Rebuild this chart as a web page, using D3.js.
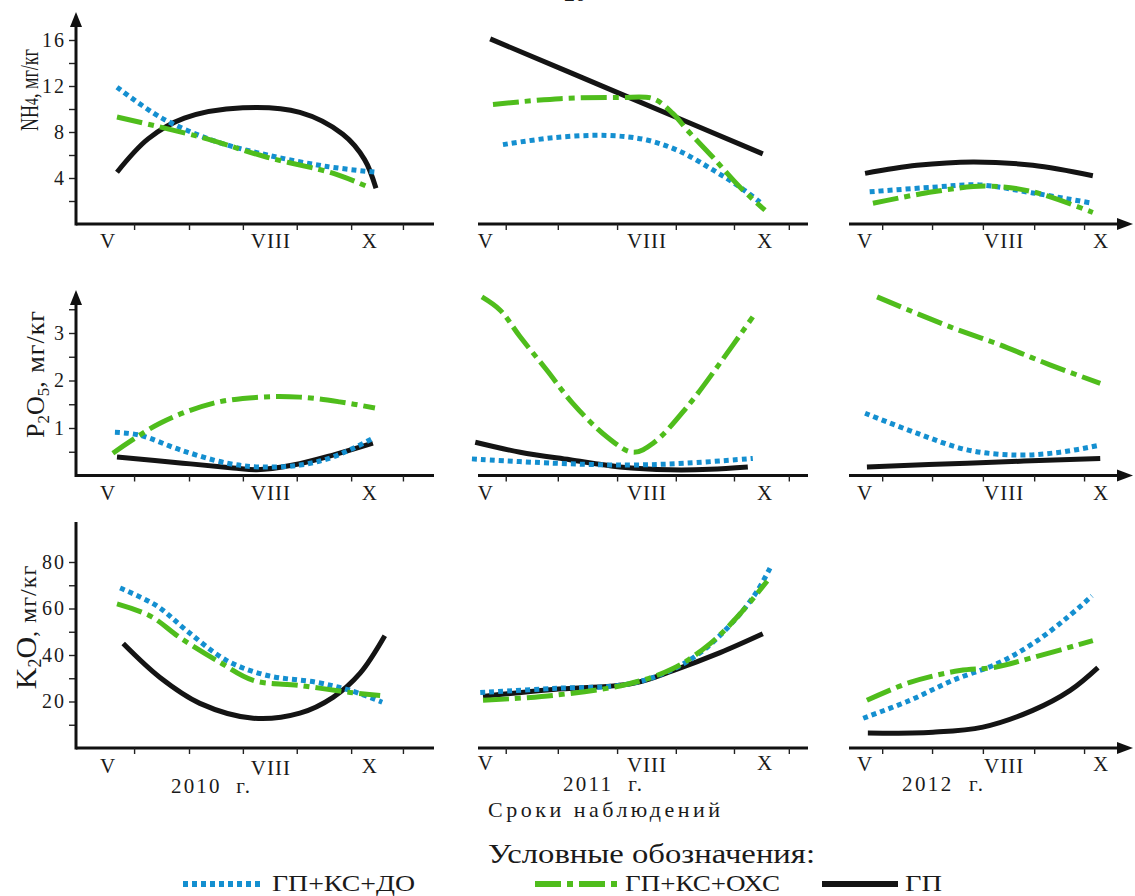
<!DOCTYPE html>
<html><head><meta charset="utf-8">
<script src="https://cdn.jsdelivr.net/npm/d3@7"></script>
<style>
body{margin:0;background:#fff}
svg text{font-family:"Liberation Serif","Times New Roman",Times,"DejaVu Serif",serif !important;fill:#1a1a1a}
</style>
</head><body>
<svg id="c" width="1135" height="896"></svg>
<script>
// ---------- DATA ----------
const monthLabels = ["V", "VIII", "X"];
const years = ["2010  г.", "2011  г.", "2012  г."];
const seriesNames = ["ГП+КС+ДО", "ГП+КС+ОХС", "ГП"];
const nh4Ticks = [4, 8, 12, 16], nh4Minor = [2, 6, 10, 14];
const p2o5Ticks = [1, 2, 3], p2o5Minor = [0.5, 1.5, 2.5, 3.5];
const k2oTicks = [20, 40, 60, 80], k2oMinor = [10, 30, 50, 70];
// month positions of x tick marks and labels per column (years)
const tickMonths2010 = [5.33, 6.39, 7.43, 8.47, 9.52, 10.52];
const tickMonths2011 = [5.32, 6.26, 7.33, 8.39, 9.44, 10.43];
const tickMonths2012 = [5.35, 6.43, 7.53, 8.64, 9.72];
const labelMonths2010 = [4.83, 7.97, 9.88];
const labelMonths2011 = [4.96, 7.87, 10.0];
const labelMonths2012 = [4.98, 7.99, 10.09];

// NH4, mg/kg  [month, value]
const nh4_2010_DO  = [[5.0,11.9],[5.83,9.3],[6.83,7.3],[7.9,6.0],[9.05,5.0],[10.0,4.5]];
const nh4_2010_OXC = [[5.0,9.3],[6.58,7.6],[7.9,5.8],[9.18,4.4],[9.86,3.2]];
const nh4_2010_GP  = [[5.0,4.5],[5.6,7.4],[6.3,9.2],[7.43,10.1],[8.53,9.7],[9.36,7.8],[9.78,5.6],[10.0,3.1]];
const nh4_2011_DO  = [[5.27,6.9],[6.17,7.5],[7.15,7.7],[7.87,7.3],[8.47,6.3],[9.06,4.7],[9.55,3.2],[9.91,1.9]];
const nh4_2011_OXC = [[5.09,10.4],[6.3,10.9],[7.38,11.0],[7.98,10.9],[8.34,9.6],[8.59,8.2],[9.06,5.8],[9.55,3.2],[10.0,1.2]];
const nh4_2011_GP  = [[5.04,16.1],[7.5,11.1],[9.96,6.1]];
const nh4_2012_DO  = [[5.08,2.8],[6.45,3.2],[7.46,3.4],[8.61,2.7],[9.91,1.8]];
const nh4_2012_OXC = [[5.15,1.8],[6.45,2.8],[7.6,3.3],[8.61,2.8],[9.91,1.0]];
const nh4_2012_GP  = [[4.98,4.4],[6.1,5.1],[7.32,5.4],[8.61,5.1],[9.91,4.2]];

// P2O5, mg/kg
const p2o5_2010_DO  = [[4.96,0.91],[5.44,0.85],[6.22,0.54],[7.12,0.26],[7.76,0.18],[8.53,0.22],[9.17,0.39],[9.94,0.78]];
const p2o5_2010_OXC = [[4.92,0.47],[5.83,1.1],[6.85,1.52],[7.76,1.65],[8.53,1.65],[9.3,1.55],[9.98,1.42]];
const p2o5_2010_GP  = [[5.0,0.39],[6.27,0.26],[7.24,0.16],[7.7,0.12],[8.4,0.22],[9.17,0.43],[9.94,0.68]];
const p2o5_2011_DO  = [[4.71,0.35],[6.17,0.26],[7.51,0.22],[8.59,0.26],[9.78,0.36]];
const p2o5_2011_OXC = [[4.89,3.76],[5.22,3.48],[5.58,2.92],[6.06,2.22],[6.53,1.52],[7.15,0.81],[7.62,0.49],[7.98,0.68],[8.59,1.44],[9.19,2.37],[9.78,3.34]];
const p2o5_2011_GP  = [[4.77,0.7],[5.58,0.49],[6.48,0.33],[7.38,0.18],[8.29,0.12],[9.01,0.13],[9.69,0.18]];
const p2o5_2012_DO  = [[4.98,1.31],[6.1,0.89],[7.19,0.54],[8.27,0.43],[9.2,0.49],[10.07,0.64]];
const p2o5_2012_OXC = [[5.24,3.76],[6.82,3.13],[7.9,2.75],[8.98,2.33],[10.07,1.94]];
const p2o5_2012_GP  = [[5.02,0.18],[7.19,0.26],[10.07,0.36]];

// K2O, mg/kg
const k2o_2010_DO  = [[5.06,68.8],[5.77,61.1],[6.35,50.4],[7.12,37.6],[7.9,31.2],[8.86,28.2],[9.5,24.8],[10.12,19.7]];
const k2o_2010_OXC = [[5.0,62.0],[5.64,56.8],[6.22,47.4],[6.99,36.8],[7.63,29.1],[8.53,26.9],[9.5,23.9],[10.08,22.6]];
const k2o_2010_GP  = [[5.12,44.9],[5.83,30.3],[6.6,19.2],[7.63,12.8],[8.53,15.0],[9.17,21.8],[9.69,32.1],[10.17,48.3]];
const k2o_2011_DO  = [[4.86,23.9],[6.17,25.6],[7.51,27.4],[8.29,33.3],[8.88,41.9],[9.49,56.0],[9.86,67.5],[10.09,77.4]];
const k2o_2011_OXC = [[4.91,20.5],[6.17,22.6],[7.51,27.4],[8.34,34.2],[9.01,44.9],[9.55,57.7],[10.04,71.8]];
const k2o_2011_GP  = [[4.91,22.2],[6.17,25.2],[7.62,27.8],[8.34,33.3],[9.19,41.0],[9.96,49.1]];
const k2o_2012_DO  = [[4.94,12.8],[5.95,20.5],[6.88,29.1],[7.84,36.3],[8.61,44.9],[9.35,56.0],[9.89,65.4]];
const k2o_2012_OXC = [[5.02,20.5],[5.95,28.2],[7.03,33.3],[7.75,34.6],[8.61,38.9],[9.91,46.2]];
const k2o_2012_GP  = [[5.04,6.4],[6.45,6.8],[7.53,9.0],[8.61,16.2],[9.42,24.8],[10.02,34.6]];

// ---------- LAYOUT ----------
const FONT = "'Liberation Serif','Times New Roman',Times,'DejaVu Serif',serif";
const svg = d3.select("#c").attr("font-family", FONT);
const colors = {DO: "#148fd0", OXC: "#4fbd1c", GP: "#141414"};
const styles = {
  DO:  {stroke: colors.DO,  dash: "5,4"},
  OXC: {stroke: colors.OXC, dash: "26,6,6,6"},
  GP:  {stroke: colors.GP,  dash: null}
};
const cols = [
  {xr: [117, 376], axis: [76, 434], ticks: tickMonths2010, labels: labelMonths2010, arrow: false},
  {xr: [488, 765], axis: [478, 808], ticks: tickMonths2011, labels: labelMonths2011, arrow: false},
  {xr: [866, 1097], axis: [849, 1133], ticks: tickMonths2012, labels: labelMonths2012, arrow: true}
];
const rows = [
  {domain: [0, 16], range: [224, 40], ticks: nh4Ticks, minor: nh4Minor, top: 12, arrowY: true, labY: [248, 248, 248],
   data: [[nh4_2010_DO, nh4_2010_OXC, nh4_2010_GP],[nh4_2011_DO, nh4_2011_OXC, nh4_2011_GP],[nh4_2012_DO, nh4_2012_OXC, nh4_2012_GP]]},
  {domain: [0, 3], range: [475.5, 333], ticks: p2o5Ticks, minor: p2o5Minor, top: 290, arrowY: true, labY: [500, 500, 500],
   data: [[p2o5_2010_DO, p2o5_2010_OXC, p2o5_2010_GP],[p2o5_2011_DO, p2o5_2011_OXC, p2o5_2011_GP],[p2o5_2012_DO, p2o5_2012_OXC, p2o5_2012_GP]]},
  {domain: [0, 80], range: [748, 562], ticks: k2oTicks, minor: k2oMinor, top: 522, arrowY: false, labY: [773, 770, 771],
   data: [[k2o_2010_DO, k2o_2010_OXC, k2o_2010_GP],[k2o_2011_DO, k2o_2011_OXC, k2o_2011_GP],[k2o_2012_DO, k2o_2012_OXC, k2o_2012_GP]]}
];
const keys = ["DO", "OXC", "GP"];

rows.forEach((row, ri) => {
  const y = d3.scaleLinear().domain(row.domain).range(row.range);
  const y0 = y(0);
  const x0 = cols[0].axis[0];
  // Y axis (left column only)
  const ya = svg.append("g").attr("transform", `translate(${x0},0)`);
  ya.call(d3.axisLeft(y).tickValues(row.ticks).tickSize(7).tickPadding(3).tickFormat(d3.format("d")));
  ya.attr("font-family", FONT).attr("font-size", 20);
  ya.select(".domain").remove();
  ya.selectAll(".tick line").attr("stroke", "#222").attr("stroke-width", 1.4);
  ya.selectAll(".tick text").attr("fill", "#1a1a1a").attr("letter-spacing", "2px");
  const ym = svg.append("g").attr("transform", `translate(${x0},0)`);
  ym.call(d3.axisLeft(y).tickValues(row.minor).tickSize(7).tickFormat(""));
  ym.select(".domain").remove();
  ym.selectAll(".tick line").attr("stroke", "#222").attr("stroke-width", 1.4);
  svg.append("line").attr("x1", x0).attr("x2", x0).attr("y1", y0 + 1.5)
     .attr("y2", row.arrowY ? row.top + 12 : row.top).attr("stroke", "#111").attr("stroke-width", 3);
  if (row.arrowY) {
    svg.append("path").attr("d", `M${x0},${row.top} L${x0 - 6},${row.top + 15} L${x0 + 6},${row.top + 15} Z`).attr("fill", "#111");
  }

  cols.forEach((col, ci) => {
    const x = d3.scaleLinear().domain([5, 10]).range(col.xr);
    const xEnd = col.arrow ? col.axis[1] - 12 : col.axis[1];
    svg.append("line").attr("x1", col.axis[0]).attr("x2", xEnd).attr("y1", y0).attr("y2", y0)
       .attr("stroke", "#111").attr("stroke-width", 3);
    if (col.arrow) {
      svg.append("path").attr("d", `M${col.axis[1]},${y0} L${col.axis[1] - 16},${y0 - 6} L${col.axis[1] - 16},${y0 + 6} Z`).attr("fill", "#111");
    }
    const xa = svg.append("g").attr("transform", `translate(0,${y0})`);
    xa.call(d3.axisBottom(x).tickValues(col.ticks).tickSize(6).tickFormat(""));
    xa.select(".domain").remove();
    xa.selectAll(".tick line").attr("stroke", "#222").attr("stroke-width", 1.4);
    // month labels
    svg.append("g").selectAll("text").data(monthLabels).join("text")
      .attr("x", (d, i) => x(col.labels[i])).attr("y", (d, i) => row.labY[ci] + (ri === 2 && i === 1 ? 2 : 0))
      .attr("text-anchor", "middle").attr("font-size", 21)
      .attr("letter-spacing", "1px").text(d => d);
    // series
    const line = d3.line().x(d => x(d[0])).y(d => y(d[1])).curve(d3.curveCatmullRom.alpha(0.5));
    [2, 0, 1].forEach(si => {
      const k = keys[si];
      svg.append("path").datum(row.data[ci][si]).attr("d", line)
        .attr("fill", "none").attr("stroke", styles[k].stroke).attr("stroke-width", 5)
        .attr("stroke-dasharray", styles[k].dash).attr("stroke-linecap", "butt");
    });
  });
});

// Y axis titles
const t1 = svg.append("text").attr("transform", "translate(38,90) rotate(-90)").attr("text-anchor", "middle")
  .attr("font-size", 25).attr("textLength", 82).attr("lengthAdjust", "spacingAndGlyphs");
t1.append("tspan").text("NH");
t1.append("tspan").text("4").attr("font-size", 19);
t1.append("tspan").text(", мг/кг");

const t2 = svg.append("text").attr("transform", "translate(44,374) rotate(-90)").attr("text-anchor", "middle")
  .attr("font-size", 26);
t2.append("tspan").text("P");
t2.append("tspan").text("2").attr("font-size", 17).attr("dy", 5);
t2.append("tspan").text("O").attr("dy", -5);
t2.append("tspan").text("5").attr("font-size", 17).attr("dy", 5);
t2.append("tspan").text(", мг/кг").attr("dy", -5).attr("letter-spacing", "1px");

const t3 = svg.append("text").attr("transform", "translate(36,627) rotate(-90)").attr("text-anchor", "middle")
  .attr("font-size", 24);
t3.append("tspan").text("K").attr("font-size", 30);
t3.append("tspan").text("2").attr("font-size", 18).attr("dy", 5);
t3.append("tspan").text("O").attr("font-size", 30).attr("dy", -5);
t3.append("tspan").text(", мг/кг").attr("letter-spacing", "1px");

// year labels
const yearPos = [[171, 793, 79], [563, 791, 79], [902, 791, 81]];
svg.append("g").selectAll("text").data(years).join("text")
  .attr("x", (d, i) => yearPos[i][0]).attr("y", (d, i) => yearPos[i][1])
  .attr("textLength", (d, i) => yearPos[i][2]).attr("lengthAdjust", "spacing")
  .attr("font-size", 21).attr("xml:space", "preserve").text(d => d);

svg.append("text").attr("x", 488).attr("y", 817).attr("textLength", 232).attr("lengthAdjust", "spacing")
  .attr("font-size", 22).text("Сроки наблюдений");

// page number partially cut at top (as in the reference scan)
svg.append("text").attr("x", 575).attr("y", 1).attr("text-anchor", "middle").attr("font-size", 22).text("20");

// Legend
svg.append("text").attr("x", 488).attr("y", 863).attr("textLength", 327).attr("lengthAdjust", "spacingAndGlyphs")
  .attr("font-size", 27).text("Условные обозначения:");
const legItems = [
  {k: "DO", x1: 183, x2: 262, tx: 272, tw: 143},
  {k: "OXC", x1: 535, x2: 618, tx: 625, tw: 155},
  {k: "GP", x1: 822, x2: 898, tx: 905, tw: 37}
];
legItems.forEach((it, i) => {
  svg.append("line").attr("x1", it.x1).attr("x2", it.x2).attr("y1", 884).attr("y2", 884)
    .attr("stroke", styles[it.k].stroke).attr("stroke-width", 6).attr("stroke-dasharray", styles[it.k].dash);
  svg.append("text").attr("x", it.tx).attr("y", 891).attr("textLength", it.tw).attr("lengthAdjust", "spacingAndGlyphs")
    .attr("font-size", 23).text(seriesNames[i]);
});
</script>
</body></html>
